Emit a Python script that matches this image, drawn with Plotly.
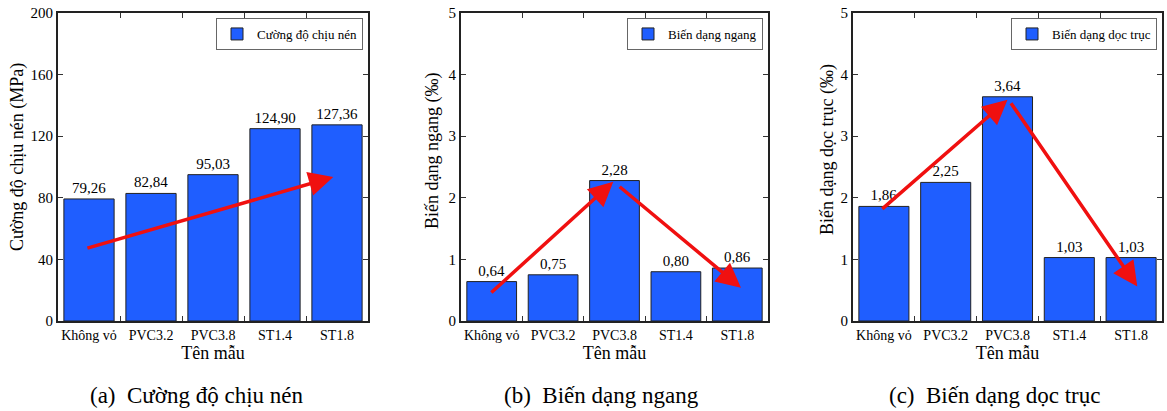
import plotly.graph_objects as go

categories = ["Không vỏ", "PVC3.2", "PVC3.8", "ST1.4", "ST1.8"]
cuong_do = [79.26, 82.84, 95.03, 124.90, 127.36]
bd_ngang = [0.64, 0.75, 2.28, 0.80, 0.86]
bd_doc = [1.86, 2.25, 3.64, 1.03, 1.03]

legend_names = ["Cường độ chịu nén", "Biến dạng ngang", "Biến dạng dọc trục"]
y_titles = ["Cường độ chịu nén (MPa)", "Biến dạng ngang (‰)", "Biến dạng dọc trục (‰)"]
captions = ["(a)  Cường độ chịu nén", "(b)  Biến dạng ngang", "(c)  Biến dạng dọc trục"]
y_ranges = [[0, 200], [0, 5], [0, 5]]
y_dticks = [40, 1, 1]

# arrows: (tail_x, tail_y, head_x, head_y) per panel
arrows = [
    [(-0.05, 47, 3.94, 93.5)],
    [(-0.03, 0.44, 1.98, 2.26), (2.06, 2.2, 4.06, 0.54)],
    [(-0.05, 1.80, 2.0, 3.59), (2.04, 3.56, 4.1, 0.56)],
]

W, H = 1167, 411
x_px = [(58, 368), (461, 768), (853, 1162)]
y_px = (13, 321)
cap_x = [197, 601, 995]
ytitle_pos = [(17, 157), (432, 151), (827, 150)]

FONT = "'Liberation Serif', 'Times New Roman', Times, serif"
BAR_COLOR = "#1f5eff"

series = [cuong_do, bd_ngang, bd_doc]

fig = go.Figure()
layout = dict(
    width=W, height=H, margin=dict(l=0, r=0, t=0, b=0, autoexpand=False),
    paper_bgcolor="white", plot_bgcolor="white",
    font=dict(family=FONT, color="black", size=14),
    showlegend=True,
)
annotations = []
for i in range(3):
    sfx = "" if i == 0 else str(i + 1)
    lg = "legend" if i == 0 else f"legend{i + 1}"
    fig.add_trace(go.Bar(
        x=categories, y=series[i], name=legend_names[i],
        xaxis="x" + sfx, yaxis="y" + sfx, legend=lg,
        marker=dict(color=BAR_COLOR, line=dict(color="#222222", width=1)),
        text=[f"{v:.2f}".replace(".", ",") for v in series[i]],
        textposition="outside", cliponaxis=False,
        textfont=dict(family=FONT, size=15, color="black"),
        width=0.81,
    ))
    xd = [x_px[i][0] / W, x_px[i][1] / W]
    yd = [1 - y_px[1] / H, 1 - y_px[0] / H]
    layout["xaxis" + sfx] = dict(
        domain=xd, anchor="y" + sfx, type="category", automargin=False,
        range=[-0.5, 4.5], tickson="boundaries", tickangle=0,
        ticks="inside", ticklen=5, tickcolor="#333", mirror="ticks",
        showline=True, linecolor="#222", linewidth=1.8,
        showgrid=False, tickfont=dict(size=14, family=FONT),
        title=dict(text="Tên mẫu", font=dict(size=18, family=FONT), standoff=0),
    )
    layout["yaxis" + sfx] = dict(
        domain=yd, anchor="x" + sfx, range=y_ranges[i], dtick=y_dticks[i],
        automargin=False,
        ticks="inside", ticklen=5, tickcolor="#333", mirror="ticks",
        showline=True, linecolor="#222", linewidth=1.8,
        showgrid=False, zeroline=False, tickfont=dict(size=15, family=FONT),
    )
    layout[lg] = dict(
        x=xd[1] - 5 / W, y=yd[1] - 5 / H, xanchor="right", yanchor="top",
        bordercolor="#666", borderwidth=1, bgcolor="white",
        font=dict(size=13, family=FONT), itemwidth=30,
    )
    for (tx, ty, hx, hy) in arrows[i]:
        annotations.append(dict(
            x=hx, y=hy, ax=tx, ay=ty, xref="x" + sfx, yref="y" + sfx,
            axref="x" + sfx, ayref="y" + sfx, text="", showarrow=True,
            arrowhead=2, arrowsize=1.4, arrowwidth=3.5, arrowcolor="#f01010",
        ))
    annotations.append(dict(
        x=ytitle_pos[i][0] / W, y=1 - ytitle_pos[i][1] / H, xref="paper", yref="paper",
        text=y_titles[i], textangle=-90, showarrow=False,
        xanchor="center", yanchor="middle",
        font=dict(size=18, family=FONT, color="black"),
    ))
    annotations.append(dict(
        x=cap_x[i] / W, y=1 - 395 / H, xref="paper", yref="paper",
        text=captions[i], showarrow=False, xanchor="center", yanchor="middle",
        font=dict(size=23, family=FONT, color="black"),
    ))
layout["annotations"] = annotations
fig.update_layout(**layout)
fig.write_html("out.html")
